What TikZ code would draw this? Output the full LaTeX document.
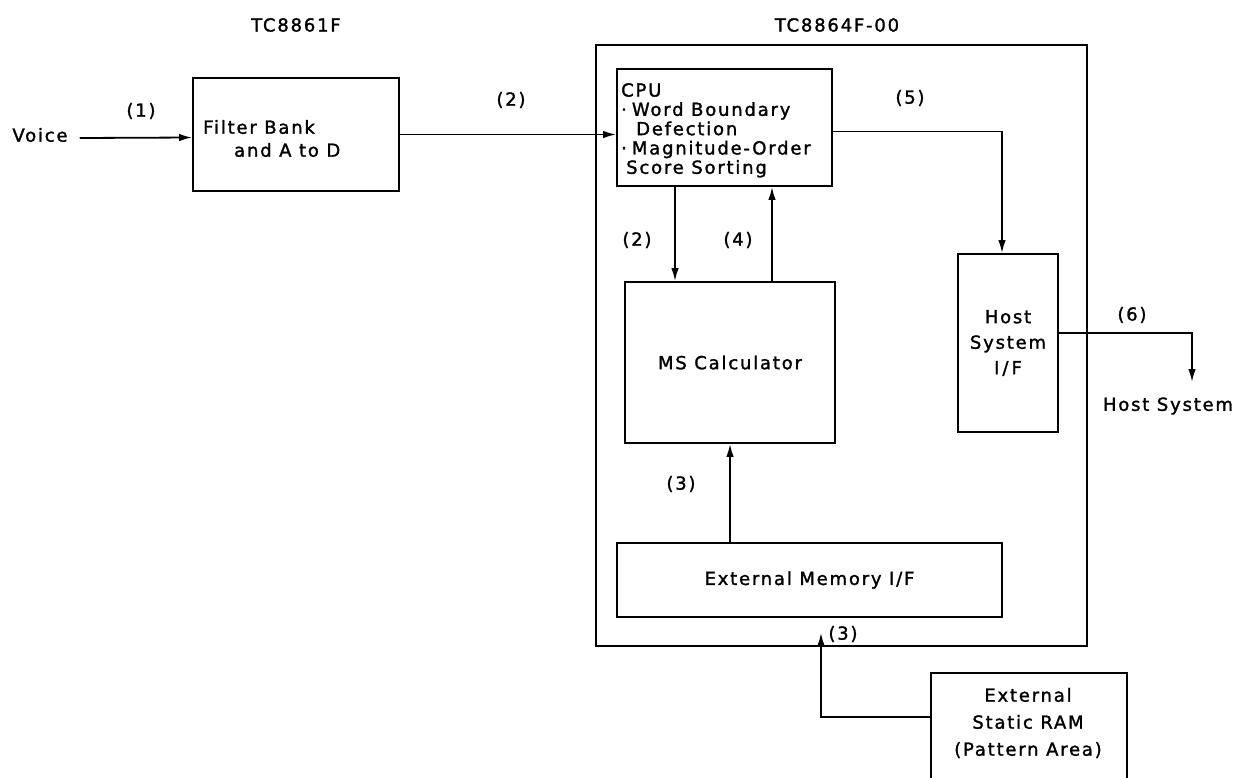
\documentclass[tikz,border=0pt]{standalone}
\usepackage{fontspec}
\setmainfont{DejaVu Sans}[LetterSpace=10,FakeBold=1.5]
\usetikzlibrary{arrows.meta}
\begin{document}
\begin{tikzpicture}[x=1pt,y=-1pt,
  blk/.style={draw,line width=1.8pt,inner sep=0pt},
  txt/.style={font=\fontsize{18}{20}\selectfont,inner sep=0pt},
  conn/.style={line width=1.8pt},
  arr/.style={conn,-{Latex[length=13pt,width=7.5pt]}}]
\useasboundingbox[fill=white] (0,0) rectangle (1245,777);
% boxes
\node[blk,minimum width=491pt,minimum height=601pt] (big) at (841.5,345.5) {};
\node[blk,minimum width=206pt,minimum height=113pt] (filter) at (296,134.5) {};
\node[blk,minimum width=215pt,minimum height=117pt] (cpu) at (724.5,127.5) {};
\node[blk,minimum width=100pt,minimum height=178pt] (host) at (1008,343) {};
\node[blk,txt,minimum width=210pt,minimum height=161pt] (ms) at (730,362.5) {MS Calculator};
\node[blk,txt,minimum width=385pt,minimum height=74pt] (em) at (809.5,580) {External Memory I/F};
\node[blk,minimum width=196pt,minimum height=140pt] (ram) at (1029,743) {};
% titles
\node[txt] (t1) at (296,25) {TC8861F};
\node[txt] (t2) at (837,25) {TC8864F-00};
% texts in boxes
\node[txt,anchor=west] (f1) at (203,127) {Filter Bank};
\node[txt,anchor=west] (f2) at (234,150) {and A to D};
\node[txt,anchor=north west,align=left,font=\fontsize{18}{19.3}\selectfont] (cput) at (621,83)
  {CPU\\·\hspace{5pt}Word Boundary\\\hspace*{15pt}Defection\\·\hspace{5pt}Magnitude-Order\\\hspace*{5pt}Score Sorting};
\node[txt,align=center,font=\fontsize{18}{25.5}\selectfont] (hostt) at (1008,343) {Host\\System\\I\,/\,F};
\node[txt,align=center,font=\fontsize{18}{27}\selectfont] (ramt) at (1028,723) {External\\Static RAM\\(Pattern Area)};
% free labels
\node[txt] (voice) at (40,135) {Voice};
\node[txt] (hs) at (1168,406) {Host System};
\node[txt] (l1) at (141,111) {(1)};
\node[txt] (l2) at (511,100) {(2)};
\node[txt] (l5) at (910,98) {(5)};
\node[txt] (l6) at (1132,315) {(6)};
\node[txt] (l2b) at (637,240) {(2)};
\node[txt] (l4) at (738,240) {(4)};
\node[txt] (l3) at (681,484) {(3)};
\node[txt] (l3b) at (843,634) {(3)};
\coordinate (hsend) at (1192,382);
% connectors
\draw[arr] ([xshift=12pt,yshift=-3pt]voice.east) -- ([yshift=-3pt]filter.west);
\draw[arr] (filter.east) -- (cpu.west |- filter.east);
\draw[arr] ([yshift=-4pt]cpu.east) -| ([xshift=-6pt]host.north);
\draw[arr] ([yshift=10pt]host.east) -| (hsend);
\draw[arr] (cpu.south -| 675,0) -- (ms.north -| 675,0);
\draw[arr] (ms.north -| 772,0) -- (cpu.south -| 772,0);
\draw[arr] (em.north -| ms.south) -- (ms.south);
\draw[arr] ([yshift=26pt]ram.west) -| ([xshift=11.5pt,yshift=-15pt]em.south);
\end{tikzpicture}
\end{document}
